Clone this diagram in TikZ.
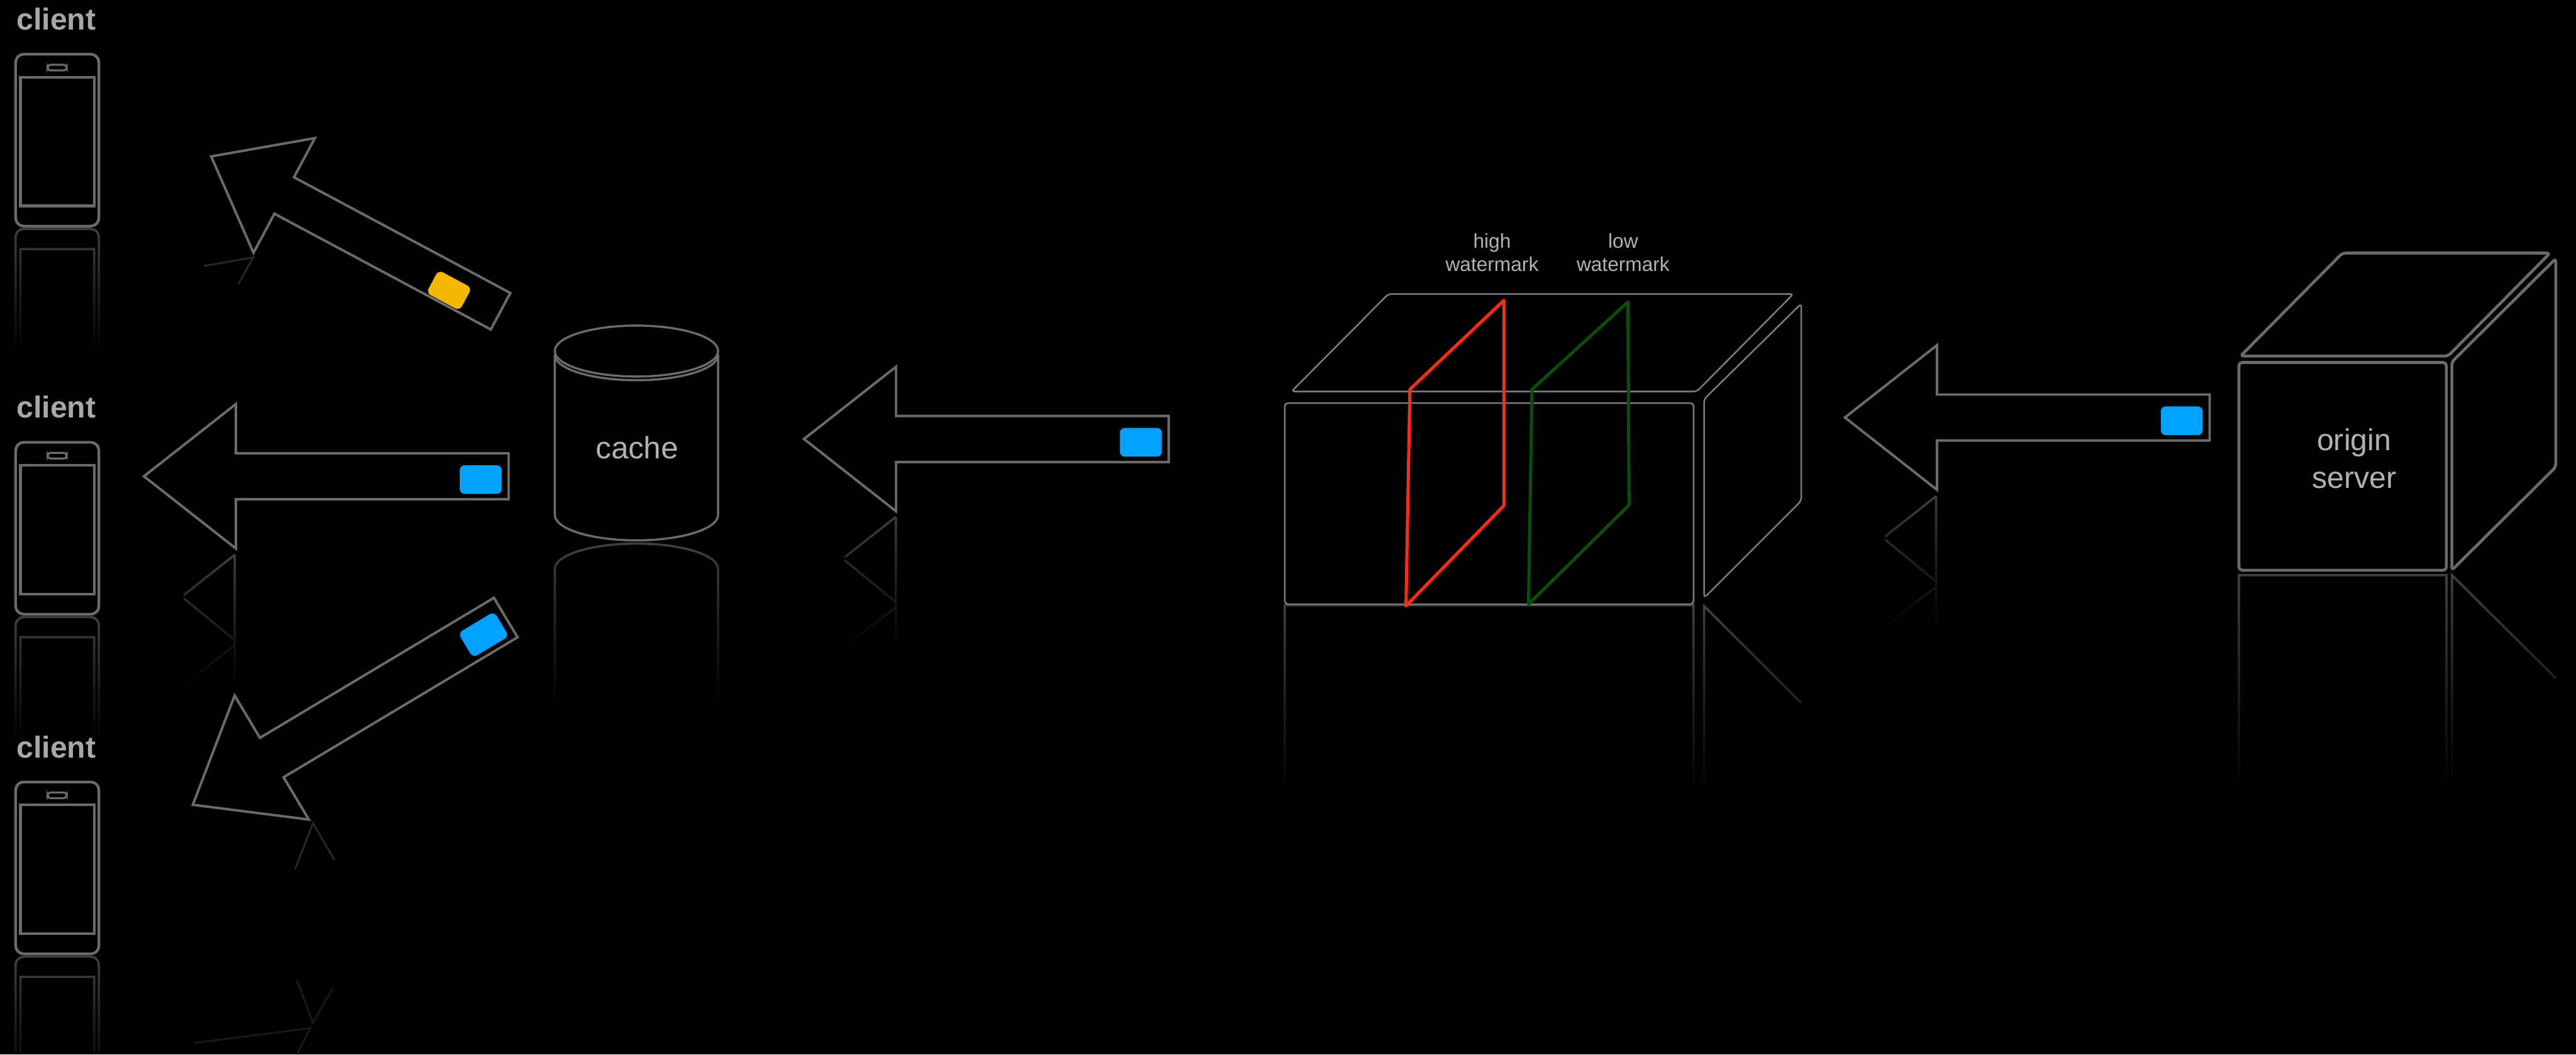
\documentclass[tikz,border=0pt]{standalone}
\usepackage{fontspec}
\setmainfont{Liberation Sans}
\usetikzlibrary{fadings}

\definecolor{wire}{HTML}{6B6B6B}
\definecolor{thinwire}{HTML}{7C7C7C}
\definecolor{caption}{HTML}{B2B2B2}
\definecolor{clientgray}{HTML}{A8A8A8}
\definecolor{pktblue}{HTML}{00A2FF}
\definecolor{pktyellow}{HTML}{F5B800}
\definecolor{highred}{HTML}{FF2B14}
\definecolor{lowgreen}{HTML}{0B4D0B}

% floor reflections die out halfway down their path
\tikzfading[name=floorfade, top color=transparent!40, middle color=transparent!100, bottom color=transparent!100]

\tikzset{
	wire/.style={draw=wire, line width=0.9pt},
	thin wire/.style={draw=thinwire, line width=0.55pt, rounded corners=0.4mm},
	mirror/.style={draw=wire, line width=0.8pt, path fading=floorfade},
	dim mirror/.style={draw=wire!35!black, line width=0.7pt},
	mark plane/.style={line width=1.1pt, line join=round},
	caption/.style={text=caption, inner sep=0pt, align=center},
	clientlabel/.style={text=clientgray, inner sep=0pt, anchor=base west, font=\fontsize{10.5}{12}\selectfont\bfseries},
}

% phone outline, top left corner at #1,#2
\newcommand\handset[2]{%
	\begin{scope}[shift={(#1,#2)}]
		\draw[wire, line width=0.95pt, rounded corners=1mm] (0,0) rectangle (50.7,104.7);
		\draw[wire, line width=0.7pt, rounded corners=0.35mm] (19.5,6.4) rectangle (31.1,9.9);
		\draw[wire, line width=0.95pt] (2.9,14) rectangle (47.8,92.4);
		% mirror image on the floor
		\draw[mirror] [rounded corners=1mm] (0,182) -- (0,106.4) -- (50.7,106.4) -- (50.7,182)
			[sharp corners] (2.9,182) -- (2.9,118.7) -- (47.8,118.7) -- (47.8,182);
	\end{scope}}

% block arrow with its tail at the origin, pointing left
\newcommand\packetarrow[3]{%
	\begin{scope}[#1]
		\draw[wire, line width=0.85pt] (0,-14) -- (-166,-14) -- (-166,-44) -- (-222,0) -- (-166,44) -- (-166,14) -- (0,14) -- cycle;
		\fill[#2, rounded corners=0.6mm, shift={(#3)}] (-12.75,-8.75) rectangle (12.75,8.75);
	\end{scope}}

% faint zigzag under an arrow head
\newcommand\arrowecho[2]{%
	\draw[mirror] (#1,#2) ++(0,3.5) -- ++(-31,24.5) ++(0,2) -- ++(31,25.5) ++(0,3) -- ++(-34,26.5) (#1,#2) ++(0,3.5) -- ++(0,78.5);}

\begin{document}
\begin{tikzpicture}[x=0.2mm, y=-0.2mm]

	\useasboundingbox (0,0) rectangle (1568,642);
	\fill[black] (0,0) rectangle (1568,642);

	% reflections on the floor
	\draw[mirror] (337.7,430) -- (337.7,346.5) arc[start angle=180, end angle=360, x radius=49.7, y radius=15.5] -- (437.1,430);
	\draw[mirror] (782,485) -- (782,368.5) -- (1030.9,368.5) -- (1030.9,485) (1037.3,485) -- (1037.3,369) -- (1096.4,428);
	\draw[mirror] (1362.8,480) -- (1362.8,350.2) -- (1489.1,350.2) -- (1489.1,480) (1492.4,480) -- (1492.4,350.2) -- (1555.7,413.1);
	\arrowecho{142.9}{334.3}
	\arrowecho{545.3}{311.2}
	\arrowecho{1178.5}{298.6}
	\draw[dim mirror] (155,156.5) -- (124,162) (154,157) -- (145,173);
	\draw[dim mirror] (179.6,529.2) -- (190.5,501.3) -- (203.5,523.4);
	\draw[dim mirror, draw=wire!22!black] (202.4,601.9) -- (190.5,622.7) -- (180.7,596.8) (118.5,635) -- (188.9,626) -- (180.7,642);

	% clients
	\handset{9.5}{33}
	\handset{9.5}{269.3}
	\handset{9.5}{476.1}
	\node[clientlabel] (client1) at (9.8,18.1) {client};
	\node[clientlabel] (client2) at (9.8,254.5) {client};
	\node[clientlabel] (client3) at (9.8,461.5) {client};

	% cache hands packets out
	\packetarrow{shift={(304.7,189.5)}, rotate=-28.15, scale=0.9}{pktyellow}{-37.4,4}
	\packetarrow{shift={(309.6,290)}}{pktblue}{-17,2}
	\packetarrow{shift={(307.85,376)}, rotate=30.9}{pktblue}{-17,2}

	% cache
	\draw[wire, line width=0.75pt] (387.4,213.75) ellipse [x radius=49.7, y radius=15.5];
	\draw[wire, line width=0.75pt] (337.7,216) arc[start angle=180, end angle=0, x radius=49.7, y radius=15.5];
	\draw[wire, line width=0.75pt] (337.7,216) -- (337.7,313.5) arc[start angle=180, end angle=0, x radius=49.7, y radius=15.5] -- (437.1,216);
	\node[caption, font=\fontsize{10.7}{12.9}\selectfont, anchor=base] (cache) at (387.8,279.2) {cache};

	\packetarrow{shift={(711.4,267.3)}}{pktblue}{-17,2}

	% queue with the two watermarks
	\draw[thin wire] (782,245.4) rectangle (1030.9,367.9);
	\draw[thin wire] (786.1,238.4) -- (1032.8,238.4) -- (1091.6,179) -- (845.1,179) -- cycle;
	\draw[thin wire] (1037.3,243) -- (1096.4,184.9) -- (1096.4,304.9) -- (1037.3,364) -- cycle;
	\draw[mark plane, highred] (858.2,237.1) -- (915.4,182.9) -- (915.4,307.9) -- (855.8,368.9) -- cycle;
	\draw[mark plane, lowgreen] (932.5,237.1) -- (990.9,183.9) -- (991.6,307.5) -- (930.4,367.9) -- cycle;
	\node[caption, font=\fontsize{6.9}{8.05}\selectfont, anchor=base] (highmark) at (908.2,165.3) {high\\watermark};
	\node[caption, font=\fontsize{6.9}{8.05}\selectfont, anchor=base] (lowmark) at (988,165.3) {low\\watermark};

	\packetarrow{shift={(1345,254.2)}}{pktblue}{-17,2}

	% origin server
	\draw[wire, line width=1pt, rounded corners=0.4mm] (1362.8,220.7) rectangle (1489.1,347.2);
	\draw[wire, line width=1pt, rounded corners=0.4mm] (1363.8,216.8) -- (1490.1,216.8) -- (1552.2,154.1) -- (1425.8,154.1) -- cycle;
	\draw[wire, line width=1pt, rounded corners=0.4mm] (1492.4,220.4) -- (1555.7,157.4) -- (1555.7,284.3) -- (1492.4,347.2) -- cycle;
	\node[caption, font=\fontsize{10.5}{12.9}\selectfont, anchor=base] (origin) at (1432.9,297.1) {origin\\server};

\end{tikzpicture}
\end{document}
